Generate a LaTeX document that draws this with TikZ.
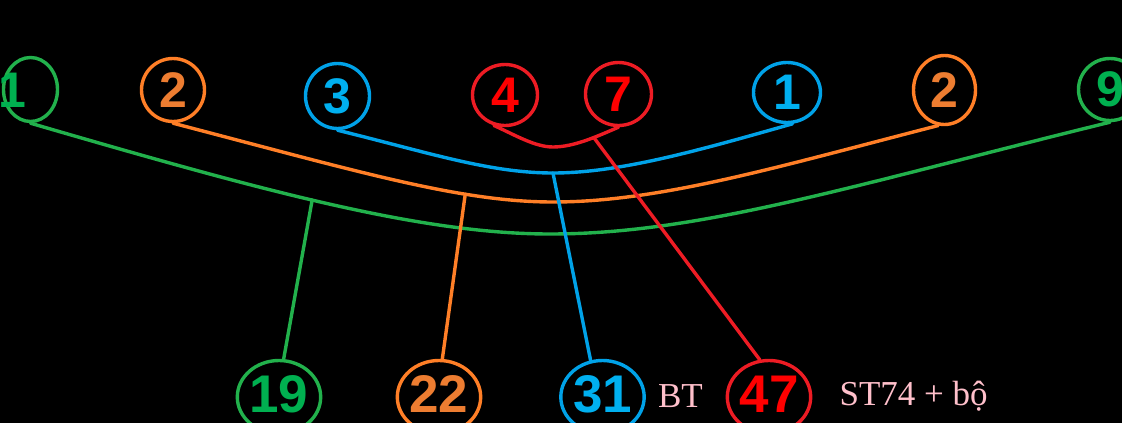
\documentclass[tikz,border=0pt]{standalone}
\usepackage{fontspec}
\usetikzlibrary{shapes.geometric}
\newfontfamily\numfont{Liberation Sans}
\newfontfamily\notefont{Liberation Serif}
\definecolor{gline}{RGB}{34,177,76}
\definecolor{gtext}{RGB}{0,176,80}
\definecolor{oline}{RGB}{255,127,39}
\definecolor{otext}{RGB}{237,125,49}
\definecolor{bline}{RGB}{0,162,232}
\definecolor{btext}{RGB}{0,176,240}
\definecolor{rline}{RGB}{237,28,36}
\definecolor{rtext}{RGB}{255,0,0}
\definecolor{pinknote}{RGB}{255,192,203}
\tikzset{ring/.style={ellipse,draw,line width=3.4pt,inner sep=0pt},
 gring/.style={ring,draw=gline,text=gtext},
 oring/.style={ring,draw=oline,text=otext},
 bring/.style={ring,draw=bline,text=btext},
 rring/.style={ring,draw=rline,text=rtext},
 topnum/.style={font=\numfont\bfseries\fontsize{50}{50}\selectfont},
 botnum/.style={font=\numfont\bfseries\fontsize{53}{53}\selectfont,text depth=6pt},
 wire/.style={line width=3.4pt},
 note/.style={text=pinknote,font=\notefont\fontsize{35}{35}\selectfont},
 every picture/.style={line join=round,line cap=round}}

\begin{document}
\begin{tikzpicture}[x=1pt,y=-1pt]
\fill[black] (0,0) rectangle (1122,423);
\useasboundingbox (0,0) rectangle (1122,423);
% top row
\node[gring,topnum,minimum width=54pt,minimum height=64pt] (g1) at (30.5,89.5) {};
\node[topnum,text=gtext] (g1n) at (12,90) {1};
\node[oring,topnum,minimum width=63pt,minimum height=63pt] (o2) at (173,90) {2};
\node[bring,topnum,minimum width=64pt,minimum height=65pt] (b3) at (337.5,96) {3};
\node[rring,topnum,minimum width=65pt,minimum height=61pt] (r4) at (505,95) {4};
\node[rring,topnum,minimum width=66pt,minimum height=63pt] (r7) at (618.5,94) {7};
\node[bring,topnum,minimum width=67pt,minimum height=60pt] (b1) at (787,92.5) {1};
\node[oring,topnum,minimum width=62pt,minimum height=69pt] (o2b) at (944.5,90) {2};
\node[gring,topnum,minimum width=63pt,minimum height=62pt] (g9) at (1110,89.5) {9};
% bottom row
\node[gring,botnum,minimum width=71pt,minimum height=73pt] (n19) at (279,397) {19};
\node[oring,botnum,minimum width=73pt,minimum height=73pt] (n22) at (439,397) {22};
\node[bring,botnum,minimum width=76pt,minimum height=73pt] (n31) at (602.5,397) {31};
\node[rring,botnum,minimum width=73pt,minimum height=73pt] (n47) at (769,397) {47};
\node[note] (bt) at (680.5,396.5) {BT};
\node[note,anchor=base west] (st) at (836,405) {ST74 + bộ};
% arcs
\draw[wire,gline] (g1.south) .. controls (260,190) and (420,234) .. (550,234) coordinate[pos=0.47] (gA)
 .. controls (700,234) and (850,186) .. (g9.south);
\draw[wire,oline] (o2.south) .. controls (360,172) and (460,202) .. (553,202) coordinate[pos=0.7] (oA)
 .. controls (660,202) and (777,167) .. (o2b.-100);
\draw[wire,bline] (b3.south) .. controls (430,153) and (490,173) .. (553,173) coordinate (bA)
 .. controls (620,173) and (700,150) .. (b1.-80);
\draw[wire,rline] (r4.-110) .. controls (515,135) and (535,147) .. (553,147)
 .. controls (575,147) and (600,135) .. (r7.south) coordinate[pos=0.6] (rA);
% stems
\draw[wire,gline] (gA) -- (n19.83);
\draw[wire,oline] (oA) -- (n22.85);
\draw[wire,bline] (bA) -- (n31.108);
\draw[wire,rline] (rA) -- (n47.104);
\end{tikzpicture}
\end{document}
